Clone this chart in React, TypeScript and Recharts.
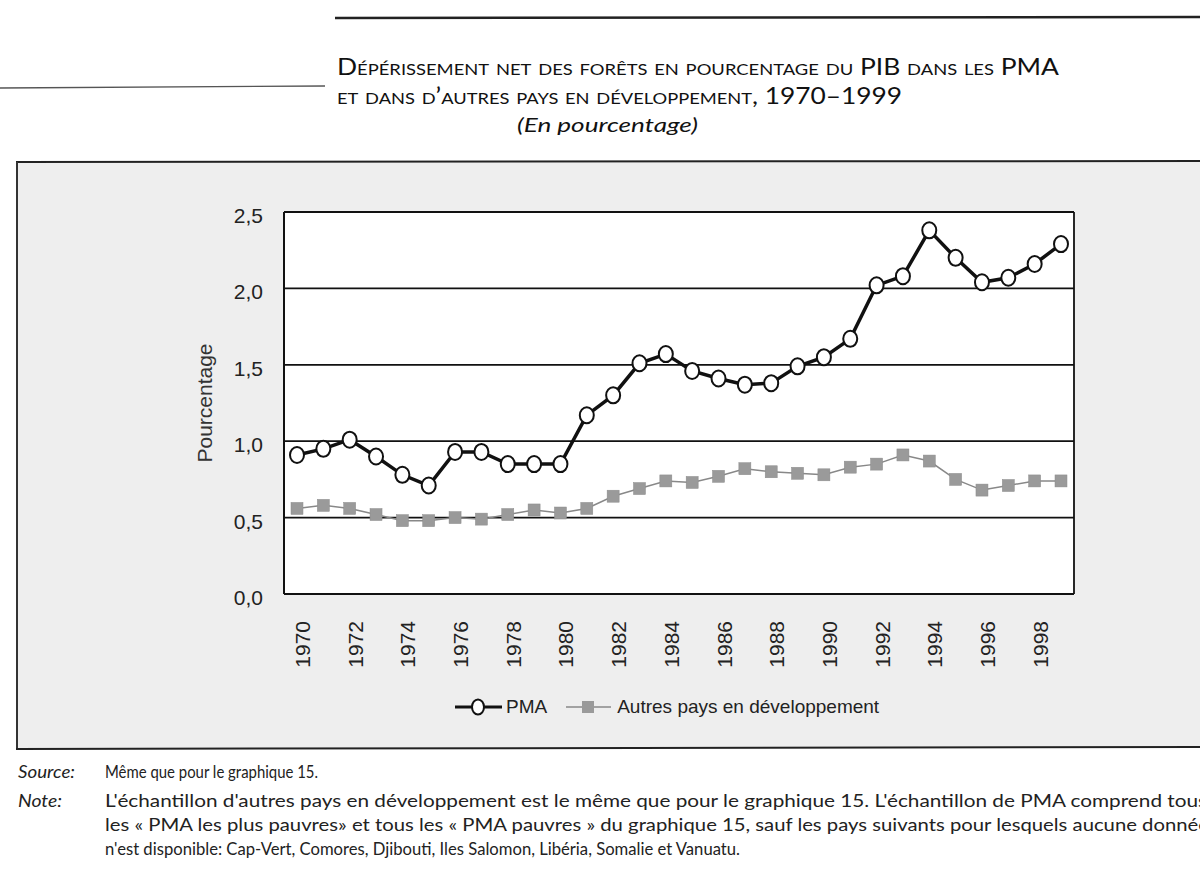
import React from 'react';
import { LineChart, Line, XAxis, YAxis, CartesianGrid, Legend } from 'recharts';

const years = ['1970','1971','1972','1973','1974','1975','1976','1977','1978','1979','1980','1981','1982','1983','1984','1985','1986','1987','1988','1989','1990','1991','1992','1993','1994','1995','1996','1997','1998','1999'];
const pma = [0.91,0.95,1.01,0.90,0.78,0.71,0.93,0.93,0.85,0.85,0.85,1.17,1.30,1.51,1.57,1.46,1.41,1.37,1.38,1.49,1.55,1.67,2.02,2.08,2.38,2.20,2.04,2.07,2.16,2.29];
const autres = [0.56,0.58,0.56,0.52,0.48,0.48,0.50,0.49,0.52,0.55,0.53,0.56,0.64,0.69,0.74,0.73,0.77,0.82,0.80,0.79,0.78,0.83,0.85,0.91,0.87,0.75,0.68,0.71,0.74,0.74];
const yTicks = [0, 0.5, 1, 1.5, 2, 2.5];
const legendOrder = ['pma', 'autres'];

const seriesNames = { pma: 'PMA', autres: 'Autres pays en développement' };

const data = years.map((y, i) => ({ year: y, pma: pma[i], autres: autres[i] }));

const AXIS_FONT = '"Liberation Sans", Arial, sans-serif';
const TEXT_FONT = 'Lato, "Open Sans", sans-serif';

const fmt = (v: number) => v.toFixed(1).replace('.', ',');

const XTick = (props: any) => {
  const { x, y, payload } = props;
  return (
    <text
      transform={`translate(${x + 13},${y + 19}) rotate(-90)`}
      textAnchor="end"
      fontFamily={AXIS_FONT}
      fontSize={21}
      fill="#222"
    >
      {payload.value}
    </text>
  );
};

const YTick = (props: any) => {
  const { x, y, payload } = props;
  return (
    <text x={x} y={y} dy={11} textAnchor="end" fontFamily={AXIS_FONT} fontSize={21} fill="#222">
      {fmt(payload.value)}
    </text>
  );
};

const CircleDot = (props: any) => {
  const { cx, cy } = props;
  if (cx == null || cy == null) return null;
  return <ellipse cx={cx} cy={cy} rx={7} ry={8} fill="#fff" stroke="#111" strokeWidth={2} />;
};

const SquareDot = (props: any) => {
  const { cx, cy } = props;
  if (cx == null || cy == null) return null;
  return <rect x={cx - 6} y={cy - 6} width={12} height={12} fill="#9a9a9a" stroke="#8c8c8c" strokeWidth={0.5} />;
};

const LegendContent = (props: any) => {
  const payload = [...(props.payload || [])].sort(
    (a: any, b: any) => legendOrder.indexOf(a.dataKey) - legendOrder.indexOf(b.dataKey)
  );
  return (
    <div style={{ display: 'flex', alignItems: 'center', height: 26, fontFamily: AXIS_FONT, fontSize: 19, color: '#222', whiteSpace: 'nowrap' }}>
      {payload.map((entry: any) => {
        const isPma = entry.dataKey === 'pma';
        return (
          <div key={entry.dataKey} style={{ display: 'flex', alignItems: 'center', marginRight: isPma ? 19 : 0 }}>
            <svg width={isPma ? 47 : 45} height={20} style={{ marginRight: isPma ? 4 : 6 }}>
              {isPma ? (
                <>
                  <line x1={0} y1={10} x2={47} y2={10} stroke="#111" strokeWidth={3} />
                  <ellipse cx={23} cy={10} rx={6} ry={7.5} fill="#fff" stroke="#111" strokeWidth={2} />
                </>
              ) : (
                <>
                  <line x1={0} y1={10} x2={45} y2={10} stroke="#888" strokeWidth={1.5} />
                  <rect x={16} y={4} width={12} height={12} fill="#9a9a9a" />
                </>
              )}
            </svg>
            <span>{entry.value}</span>
          </div>
        );
      })}
    </div>
  );
};

const YLabel = (props: any) => {
  const { viewBox } = props;
  const cx = viewBox.x + viewBox.width / 2;
  const cy = viewBox.y + viewBox.height / 2;
  return (
    <text
      transform={`translate(${cx + 7},${cy}) rotate(-90)`}
      textAnchor="middle"
      fontFamily={AXIS_FONT}
      fontSize={21}
      fill="#333"
    >
      Pourcentage
    </text>
  );
};

export default function App() {
  return (
    <div style={{ position: 'fixed', left: 0, top: 0, width: 1200, height: 869, overflow: 'hidden', background: '#fff' }}>
      <svg width={1200} height={869} style={{ position: 'absolute', left: 0, top: 0 }}>
        <line x1={335} y1={18} x2={1200} y2={17} stroke="#222" strokeWidth={2.5} />
        <line x1={0} y1={88} x2={325} y2={86} stroke="#555" strokeWidth={1.3} />
        <text x={337} y={75} fontFamily={TEXT_FONT} fontSize={23} fill="#111" style={{ fontVariant: 'small-caps' }} textLength={722} lengthAdjust="spacingAndGlyphs">
          Dépérissement net des forêts en pourcentage du PIB dans les PMA
        </text>
        <text x={337} y={104} fontFamily={TEXT_FONT} fontSize={23} fill="#111" style={{ fontVariant: 'small-caps' }} textLength={565} lengthAdjust="spacingAndGlyphs">
          et dans d’autres pays en développement, 1970–1999
        </text>
        <text x={517} y={132} fontFamily={TEXT_FONT} fontSize={20} fontStyle="italic" fill="#111" textLength={181} lengthAdjust="spacingAndGlyphs">
          (En pourcentage)
        </text>
        <rect x={17} y={162} width={1200} height={586} fill="#eeeeee" />
        <line x1={16} y1={162} x2={1200} y2={161} stroke="#222" strokeWidth={2} />
        <line x1={17} y1={162} x2={17} y2={749} stroke="#333" strokeWidth={2} />
        <line x1={16} y1={749} x2={1200} y2={747} stroke="#222" strokeWidth={2} />
        <text x={18} y={778} fontFamily={TEXT_FONT} fontSize={18} fontStyle="italic" fill="#222" textLength={57} lengthAdjust="spacingAndGlyphs">Source:</text>
        <text x={105} y={778} fontFamily={TEXT_FONT} fontSize={18} fill="#222" textLength={213} lengthAdjust="spacingAndGlyphs">Même que pour le graphique 15.</text>
        <text x={18} y={807} fontFamily={TEXT_FONT} fontSize={18} fontStyle="italic" fill="#222" textLength={44} lengthAdjust="spacingAndGlyphs">Note:</text>
        <text x={105} y={807} fontFamily={TEXT_FONT} fontSize={18} fill="#222" textLength={1102} lengthAdjust="spacingAndGlyphs">
          L'échantillon d'autres pays en développement est le même que pour le graphique 15. L'échantillon de PMA comprend tous
        </text>
        <text x={105} y={831} fontFamily={TEXT_FONT} fontSize={18} fill="#222" textLength={1104} lengthAdjust="spacingAndGlyphs">
          les « PMA les plus pauvres» et tous les « PMA pauvres » du graphique 15, sauf les pays suivants pour lesquels aucune donnée
        </text>
        <text x={105} y={855} fontFamily={TEXT_FONT} fontSize={18} fill="#222" textLength={635} lengthAdjust="spacingAndGlyphs">
          n'est disponible: Cap-Vert, Comores, Djibouti, Iles Salomon, Libéria, Somalie et Vanuatu.
        </text>
      </svg>

      <div style={{ position: 'absolute', left: 16, top: 162 }}>
        <LineChart width={1184} height={586} data={data} margin={{ top: 50, right: 126, bottom: 28, left: 110 }}>
          <CartesianGrid
            fill="#fff"
            stroke="#111"
            strokeWidth={1.8}
            horizontal={true}
            vertical={true}
            verticalCoordinatesGenerator={({ offset }: any) => [offset.left, offset.left + offset.width]}
          />
          <XAxis
            dataKey="year"
            interval={1}
            height={100}
            padding={{ left: 13, right: 13 }}
            tick={<XTick />}
            tickLine={false}
            axisLine={{ stroke: '#111', strokeWidth: 2 }}
            scale="point"
          />
          <YAxis
            domain={[0, 2.5]}
            ticks={yTicks}
            width={158}
            tickSize={0}
            tickMargin={21}
            tickLine={false}
            axisLine={{ stroke: '#111', strokeWidth: 2 }}
            tick={<YTick />}
            label={<YLabel />}
          />
          <Legend
            verticalAlign="bottom"
            content={<LegendContent />}
            wrapperStyle={{ left: 439, width: 520 }}
          />
          <Line
            dataKey="autres"
            name={seriesNames.autres}
            type="linear"
            stroke="#888"
            strokeWidth={1.5}
            dot={<SquareDot />}
            activeDot={false}
            isAnimationActive={false}
          />
          <Line
            dataKey="pma"
            name={seriesNames.pma}
            type="linear"
            stroke="#111"
            strokeWidth={3.5}
            dot={<CircleDot />}
            activeDot={false}
            isAnimationActive={false}
          />
        </LineChart>
      </div>
    </div>
  );
}
